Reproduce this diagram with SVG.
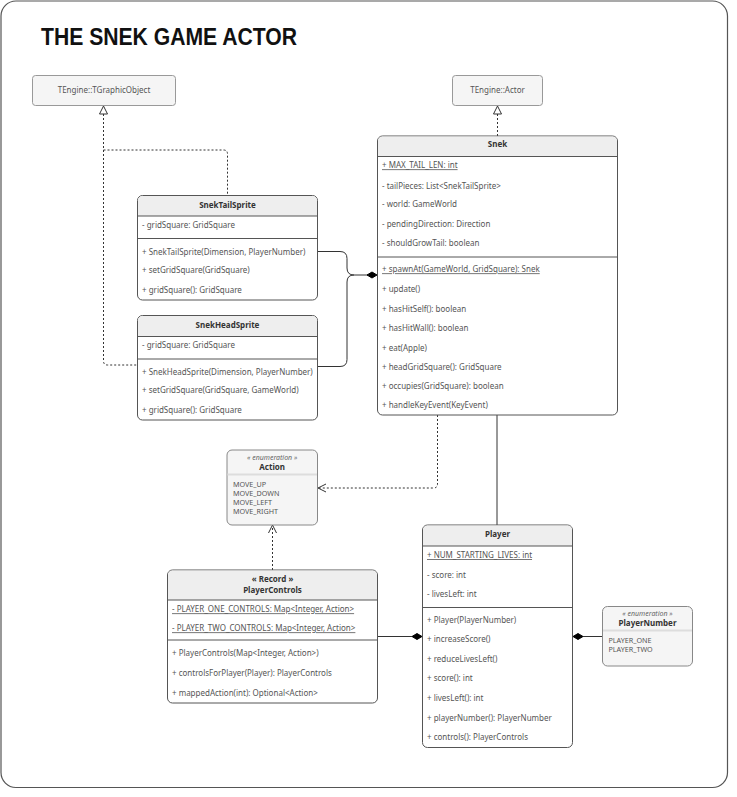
<svg xmlns="http://www.w3.org/2000/svg" width="737" height="797" viewBox="0 0 737 797">
<style>
.t{font-family:"Noto Sans","Liberation Sans",sans-serif;font-size:8px;fill:#555}
.c{text-anchor:middle}
.b{font-weight:bold;fill:#333}
.i{font-style:italic;font-size:7px;fill:#666}
.e{font-size:7.2px;fill:#555}
.u{text-decoration:underline}
.box{fill:#fff;stroke:#555;stroke-width:1}
.hdr{fill:#eeeeee}
.sep{stroke:#555;stroke-width:1}
.enum{fill:#f5f5f5;stroke:#888;stroke-width:1}
.esep{stroke:#ddd;stroke-width:2}
.ext{fill:#f5f5f5;stroke:#999;stroke-width:1}
.ln{fill:none;stroke:#333;stroke-width:1}
.dash{stroke-dasharray:2,2}
.dia{fill:#000;stroke:#000;stroke-width:1}
.tri{fill:#fff;stroke:#333;stroke-width:1}
</style>
<rect x="1" y="1" width="726.5" height="786.5" rx="15" fill="#fff" stroke="#555" stroke-width="1.2"/>
<text x="41" y="45" font-family="'Liberation Sans',sans-serif" font-weight="bold" font-size="24" fill="#111" textLength="256" lengthAdjust="spacingAndGlyphs">THE SNEK GAME ACTOR</text>

<g id="connectors">
  <path class="ln dash" d="M103.5,114 V361 Q103.5,365 107.5,365 H137.5"/>
  <path class="ln dash" d="M103.5,150 H223.5 Q227.5,150 227.5,154 V195.5"/>
  <polygon class="tri" points="103.5,106 99.5,114 107.5,114"/>
  <path class="ln dash" d="M497.5,114 V136"/>
  <polygon class="tri" points="497.5,106 493.5,114 501.5,114"/>
  <path class="ln" d="M318,251.5 H340 Q347,251.5 347,258.5 V268 Q347,275 354,275 H368"/>
  <path class="ln" d="M318,366.5 H340 Q347,366.5 347,359.5 V282 Q347,275 354,275"/>
  <polygon class="dia" points="367,275 372,272 377,275 372,278"/>
  <path class="ln dash" d="M437.5,415 V484 Q437.5,488 433.5,488 H318"/>
  <polyline class="ln" points="326,484 318,488 326,492"/>
  <path class="ln" d="M497,415 V525"/>
  <path class="ln dash" d="M272.5,570 V525"/>
  <polyline class="ln" points="268.5,533 272.5,525 276.5,533"/>
  <path class="ln" d="M377.5,636.5 H412"/>
  <polygon class="dia" points="412,636.5 417,633.5 422,636.5 417,639.5"/>
  <path class="ln" d="M583,636.5 H602.5"/>
  <polygon class="dia" points="573,636.5 578,633.5 583,636.5 578,639.5"/>
</g>

<g id="TGraphicObject">
  <rect class="ext" x="32.5" y="75.5" width="143" height="30" rx="3"/>
  <text class="t c" x="104" y="93">TEngine::TGraphicObject</text>
</g>

<g id="Actor">
  <rect class="ext" x="452.5" y="75.5" width="90" height="30" rx="3"/>
  <text class="t c" x="497.5" y="93">TEngine::Actor</text>
</g>

<g id="Snek">
  <rect class="box" x="377.5" y="136" width="240" height="279" rx="5"/>
  <path class="hdr" d="M378,156 V141 Q378,136.5 383,136.5 H612 Q617,136.5 617,141 V156 Z"/>
  <line class="sep" x1="377.5" y1="156.5" x2="617.5" y2="156.5"/>
  <text class="t c b" x="497.5" y="147.3">Snek</text>
  <text class="t u" x="382" y="168.3">+ MAX_TAIL_LEN: int</text>
  <text class="t" x="382" y="188.7">- tailPieces: List&lt;SnekTailSprite&gt;</text>
  <text class="t" x="382" y="207.3">- world: GameWorld</text>
  <text class="t" x="382" y="227">- pendingDirection: Direction</text>
  <text class="t" x="382" y="246.3">- shouldGrowTail: boolean</text>
  <line class="sep" x1="377.5" y1="257" x2="617.5" y2="257"/>
  <text class="t u" x="382" y="272.3">+ spawnAt(GameWorld, GridSquare): Snek</text>
  <text class="t" x="382" y="292">+ update()</text>
  <text class="t" x="382" y="311.7">+ hasHitSelf(): boolean</text>
  <text class="t" x="382" y="330.7">+ hasHitWall(): boolean</text>
  <text class="t" x="382" y="350.7">+ eat(Apple)</text>
  <text class="t" x="382" y="369.7">+ headGridSquare(): GridSquare</text>
  <text class="t" x="382" y="389.3">+ occupies(GridSquare): boolean</text>
  <text class="t" x="382" y="408">+ handleKeyEvent(KeyEvent)</text>
</g>

<g id="SnekTailSprite">
  <rect class="box" x="137.5" y="195.5" width="180" height="104.5" rx="5"/>
  <path class="hdr" d="M138,216 V200.5 Q138,196 143,196 H312 Q317,196 317,200.5 V216 Z"/>
  <line class="sep" x1="137.5" y1="216" x2="317.5" y2="216"/>
  <text class="t c b" x="227.5" y="208">SnekTailSprite</text>
  <text class="t" x="142" y="228">- gridSquare: GridSquare</text>
  <line class="sep" x1="137.5" y1="238.5" x2="317.5" y2="238.5"/>
  <text class="t" x="142" y="254.7">+ SnekTailSprite(Dimension, PlayerNumber)</text>
  <text class="t" x="142" y="273.3">+ setGridSquare(GridSquare)</text>
  <text class="t" x="142" y="293">+ gridSquare(): GridSquare</text>
</g>

<g id="SnekHeadSprite">
  <rect class="box" x="137.5" y="315.5" width="180" height="104.5" rx="5"/>
  <path class="hdr" d="M138,336.5 V320.5 Q138,316 143,316 H312 Q317,316 317,320.5 V336.5 Z"/>
  <line class="sep" x1="137.5" y1="336.5" x2="317.5" y2="336.5"/>
  <text class="t c b" x="227.5" y="328">SnekHeadSprite</text>
  <text class="t" x="142" y="348">- gridSquare: GridSquare</text>
  <line class="sep" x1="137.5" y1="359" x2="317.5" y2="359"/>
  <text class="t" x="142" y="374.7">+ SnekHeadSprite(Dimension, PlayerNumber)</text>
  <text class="t" x="142" y="393.3">+ setGridSquare(GridSquare, GameWorld)</text>
  <text class="t" x="142" y="413.3">+ gridSquare(): GridSquare</text>
</g>

<g id="Action">
  <rect class="enum" x="227" y="450" width="90.5" height="75" rx="5"/>
  <text class="t c i" x="272.2" y="459.5">« enumeration »</text>
  <text class="t c b" x="272.2" y="469.5">Action</text>
  <line class="esep" x1="227.5" y1="474.5" x2="317" y2="474.5"/>
  <text class="t e" x="233" y="486.5">MOVE_UP</text>
  <text class="t e" x="233" y="495.7">MOVE_DOWN</text>
  <text class="t e" x="233" y="504.9">MOVE_LEFT</text>
  <text class="t e" x="233" y="514.1">MOVE_RIGHT</text>
</g>

<g id="PlayerControls">
  <rect class="box" x="167.5" y="570" width="210" height="133" rx="5"/>
  <path class="hdr" d="M168,600 V575 Q168,570.5 173,570.5 H372 Q377,570.5 377,575 V600 Z"/>
  <line class="sep" x1="167.5" y1="600" x2="377.5" y2="600"/>
  <text class="t c b" x="272.5" y="581.8">« Record »</text>
  <text class="t c b" x="272.5" y="592.5">PlayerControls</text>
  <text class="t u" x="172" y="612.3">- PLAYER_ONE_CONTROLS: Map&lt;Integer, Action&gt;</text>
  <text class="t u" x="172" y="631.3">- PLAYER_TWO_CONTROLS: Map&lt;Integer, Action&gt;</text>
  <line class="sep" x1="167.5" y1="640" x2="377.5" y2="640"/>
  <text class="t" x="172" y="656.3">+ PlayerControls(Map&lt;Integer, Action&gt;)</text>
  <text class="t" x="172" y="675.7">+ controlsForPlayer(Player): PlayerControls</text>
  <text class="t" x="172" y="695.7">+ mappedAction(int): Optional&lt;Action&gt;</text>
</g>

<g id="Player">
  <rect class="box" x="422.5" y="525" width="150" height="222.5" rx="5"/>
  <path class="hdr" d="M423,546 V530 Q423,525.5 428,525.5 H567 Q572,525.5 572,530 V546 Z"/>
  <line class="sep" x1="422.5" y1="546" x2="572.5" y2="546"/>
  <text class="t c b" x="497.5" y="537.3">Player</text>
  <text class="t u" x="427" y="558">+ NUM_STARTING_LIVES: int</text>
  <text class="t" x="427" y="578">- score: int</text>
  <text class="t" x="427" y="597">- livesLeft: int</text>
  <line class="sep" x1="422.5" y1="607.5" x2="572.5" y2="607.5"/>
  <text class="t" x="427" y="623">+ Player(PlayerNumber)</text>
  <text class="t" x="427" y="642">+ increaseScore()</text>
  <text class="t" x="427" y="661.7">+ reduceLivesLeft()</text>
  <text class="t" x="427" y="681.3">+ score(): int</text>
  <text class="t" x="427" y="701">+ livesLeft(): int</text>
  <text class="t" x="427" y="720.7">+ playerNumber(): PlayerNumber</text>
  <text class="t" x="427" y="740.3">+ controls(): PlayerControls</text>
</g>

<g id="PlayerNumber">
  <rect class="enum" x="602.5" y="606.5" width="90" height="59.5" rx="5"/>
  <text class="t c i" x="647.5" y="615.8">« enumeration »</text>
  <text class="t c b" x="647.5" y="626">PlayerNumber</text>
  <line class="esep" x1="603" y1="630.5" x2="692" y2="630.5"/>
  <text class="t e" x="608.5" y="643">PLAYER_ONE</text>
  <text class="t e" x="608.5" y="652.3">PLAYER_TWO</text>
</g>
</svg>
